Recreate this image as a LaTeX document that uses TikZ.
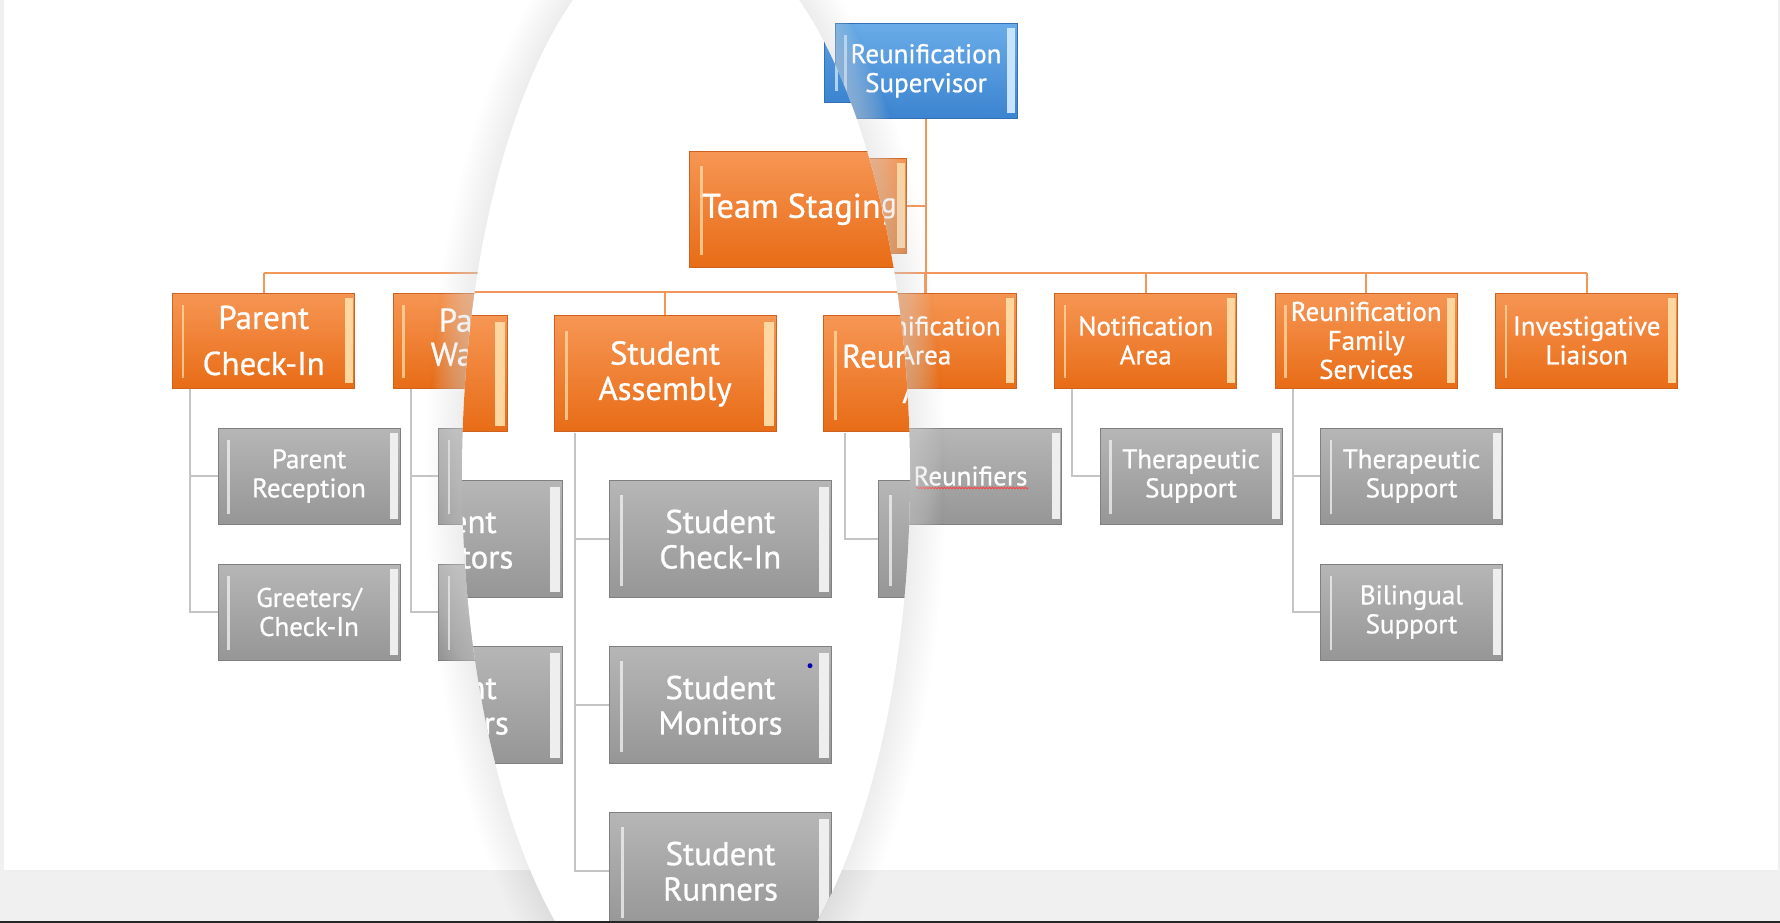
\documentclass[tikz,border=0pt]{standalone}
\usepackage{fontspec}
\setmainfont{PT Sans}[FakeBold=0.8]
\usetikzlibrary{positioning,decorations.pathmorphing}

\definecolor{orangetop}{RGB}{246,150,84}
\definecolor{orangebot}{RGB}{232,108,22}
\definecolor{orangerim}{RGB}{206,98,30}
\definecolor{orangeshine}{RGB}{253,214,160}
\definecolor{graytop}{RGB}{182,182,182}
\definecolor{graybot}{RGB}{150,150,150}
\definecolor{grayrim}{RGB}{128,128,128}
\definecolor{grayshine}{RGB}{238,238,238}
\definecolor{bluetop}{RGB}{106,172,232}
\definecolor{bluebot}{RGB}{60,132,208}
\definecolor{bluerim}{RGB}{52,112,180}
\definecolor{blueshine}{RGB}{200,228,250}
\definecolor{linkorange}{RGB}{242,150,90}
\definecolor{linkgray}{RGB}{196,196,196}
\definecolor{bandgray}{RGB}{240,240,240}

\tikzset{
    bevel/.style={path picture={
        \fill[#1, opacity=0.8] ([xshift=9pt,yshift=-12pt]path picture bounding box.north west) rectangle ([xshift=11.5pt,yshift=10pt]path picture bounding box.south west);
        \fill[#1] ([xshift=-10pt,yshift=-5pt]path picture bounding box.north east) rectangle ([xshift=-2pt,yshift=5pt]path picture bounding box.south east);}},
    box/.style={rectangle, minimum width=182pt, minimum height=95pt, inner sep=3pt, align=center, text=white, font=\fontsize{27}{29}\selectfont, line width=1pt},
    head/.style={box, draw=bluerim, top color=bluetop, bottom color=bluebot, bevel=blueshine},
    area/.style={box, draw=orangerim, top color=orangetop, bottom color=orangebot, bevel=orangeshine},
    task/.style={box, minimum height=96pt, draw=grayrim, top color=graytop, bottom color=graybot, bevel=grayshine},
    bus/.style={draw=linkorange, line width=2pt},
    twig/.style={draw=linkgray, line width=2pt},
    spell/.style={draw=red!75, line width=0.8pt, decorate, decoration={snake, amplitude=0.8pt, segment length=3pt}},
    lens/.style={x radius=224pt, y radius=550pt}
}

% the whole chart, drawn once plain and once under the lens
\newcommand\drawchart{%
  \node[head] (sup) at (926,70.8) {Reunification\\Supervisor};
  \node[area, font=\fontsize{28}{30}\selectfont] (stage) at (815.7,205.5) {Team Staging};
  % areas
  \node[area, font=\fontsize{33}{46}\selectfont] (pci) at (263.7,340.5) {Parent\\Check-In};
  \node[area, font=\fontsize{33}{34}\selectfont] (pwa) at (484.2,340.5) {Parent\\Waiting};
  \node[area] (sas) at (704.7,340.5) {Student\\Assembly};
  \node[area] (rea) at (925.2,340.5) {Reunification\\Area};
  \node[area] (nar) at (1145.7,340.5) {Notification\\Area};
  \node[area] (rfs) at (1366.2,340.5) {Reunification\\Family\\Services};
  \node[area] (inv) at (1586.7,340.5) {Investigative\\Liaison};
  % tasks
  \node[task] (prc) at (309,476) {Parent\\Reception};
  \node[task, below=39pt of prc] (grt) {Greeters/\\Check-In};
  \node[task] (pmo) at (529.5,476) {Parent\\Monitors};
  \node[task, below=39pt of pmo] (pru) {Parent\\Runners};
  \node[task] (sci) at (750,476) {Student\\Check-In};
  \node[task, below=39pt of sci] (smo) {Student\\Monitors};
  \node[task, below=39pt of smo] (sru) {Student\\Runners};
  \node[task] (run) at (970.5,476) {Reunifiers};
  \node[task] (nts) at (1191,476) {Therapeutic\\Support};
  \node[task] (fts) at (1411.5,476) {Therapeutic\\Support};
  \node[task, below=39pt of fts] (bil) {Bilingual\\Support};
  % connectors
  \coordinate (bus) at (0,273.3);
  \draw[bus] (sup.south) -- (sup.south |- rea.north);
  \draw[bus] (stage.east) -- (stage.east -| sup.south);
  \draw[bus] (pci.north |- bus) -- (inv.north |- bus);
  \foreach \boss in {pci,pwa,sas,rea,nar,rfs,inv}
    \draw[bus] (\boss.north) -- (\boss.north |- bus);
  \foreach \boss/\kid in {pci/prc,pci/grt,pwa/pmo,pwa/pru,sas/sci,sas/smo,sas/sru,rea/run,nar/nts,rfs/fts,rfs/bil}
    \draw[twig] ([xshift=18pt]\boss.south west) |- (\kid.west);
  \draw[spell] ([xshift=-54pt,yshift=-12pt]run.center) -- ([xshift=58pt,yshift=-12pt]run.center);
}

\begin{document}
\begin{tikzpicture}[x=1pt, y=-1pt]
  \useasboundingbox (0,0) rectangle (1780,923);
  \fill[bandgray] (0,0) rectangle (1780,923);
  \fill[white] (4,0) rectangle (1778,870);
  \drawchart
  % lens with a soft rim
  \foreach \w in {4,8,...,64}
    \draw[white, opacity=0.04, line width=\w pt] (686,475) ellipse [lens];
  \foreach \w in {4,8,...,72}
    \draw[black, opacity=0.005, line width=\w pt] (686,475) ellipse [lens];
  \fill[white] (686,475) ellipse [lens];
  \begin{scope}
    \clip (686,475) ellipse [lens];
    \begin{scope}[shift={(885,188.6)}, scale=1.22, shift={(-885,-188.6)}, transform shape]
      \drawchart
    \end{scope}
    \fill[blue!70!black] (810,665.7) circle (2.5pt);
  \end{scope}
  \fill[black!85] (0,921) rectangle (1780,923);
\end{tikzpicture}
\end{document}
